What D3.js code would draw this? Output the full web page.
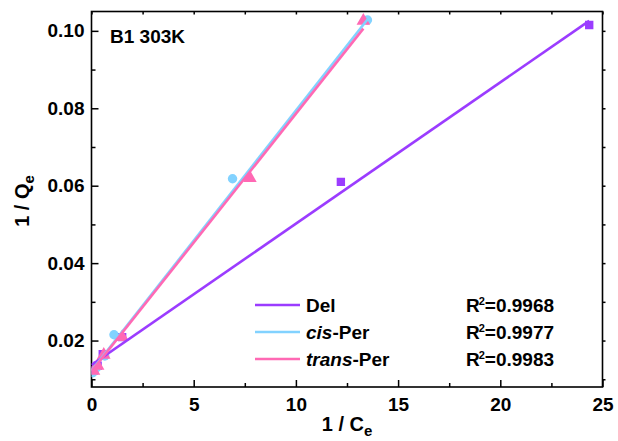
<!DOCTYPE html>
<html><head><meta charset="utf-8">
<script src="https://cdn.jsdelivr.net/npm/d3@7"></script>
<style>
html,body{margin:0;padding:0;background:#fff;}
svg{display:block;font-family:"Liberation Sans",Arial,sans-serif;}
</style></head>
<body>
<svg id="chart" width="618" height="441"></svg>
<script>
// ---- data ----
const seriesNames = ["Del", "cis-Per", "trans-Per"];
const r2Labels = ["0.9968", "0.9977", "0.9983"];
const delX = [0.12, 0.3, 0.55, 1.5, 12.2, 24.35];
const delY = [0.0123, 0.0135, 0.0165, 0.0209, 0.0610, 0.1015];
const cisX = [0.06, 0.25, 0.65, 1.1, 6.9, 13.5];
const cisY = [0.0117, 0.0130, 0.0160, 0.0215, 0.0618, 0.1028];
const transX = [0.1, 0.3, 0.6, 1.5, 7.75, 13.3];
const transY = [0.0122, 0.0135, 0.0163, 0.0209, 0.0620, 0.1026];
const fitSlope = [0.00365, 0.00672, 0.00666];
const fitIntercept = [0.0137, 0.0122, 0.0120];
const xTicks = [0, 5, 10, 15, 20, 25];
const yTicks = [0.02, 0.04, 0.06, 0.08, 0.10];
const colors = ["#9b3cff", "#82d2ff", "#ff69b4"];

const svg = d3.select("#chart");
const L = 91.5, R = 602.5, T = 11.5, B = 387;
const x = d3.scaleLinear().domain([0, 25]).range([L, R]);
const y = d3.scaleLinear().domain([0.008, 0.105]).range([B, T]);

const xMinor = d3.range(2.5, 25, 5);
const yMinor = d3.range(0.01, 0.105, 0.02);
const FS = 19;

// axes
const fmtY = d3.format(".2f");
const gB = svg.append("g").attr("transform", `translate(0,${B})`)
  .call(d3.axisBottom(x).tickValues(xTicks).tickSize(-7).tickPadding(11).tickFormat(d3.format("d")));
const gBm = svg.append("g").attr("transform", `translate(0,${B})`)
  .call(d3.axisBottom(x).tickValues(xMinor).tickSize(-4).tickFormat(""));
const gL = svg.append("g").attr("transform", `translate(${L},0)`)
  .call(d3.axisLeft(y).tickValues(yTicks).tickSize(-7).tickPadding(7).tickFormat(fmtY));
const gLm = svg.append("g").attr("transform", `translate(${L},0)`)
  .call(d3.axisLeft(y).tickValues(yMinor).tickSize(-4).tickFormat(""));
const gT = svg.append("g").attr("transform", `translate(0,${T})`)
  .call(d3.axisTop(x).tickValues(xTicks.concat(xMinor)).tickSize(-3).tickFormat(""));
const gR = svg.append("g").attr("transform", `translate(${R},0)`)
  .call(d3.axisRight(y).tickValues(yTicks.concat(yMinor)).tickSize(3).tickFormat(""));
[gB, gBm, gL, gLm, gT, gR].forEach(g => {
  g.select(".domain").remove();
  g.selectAll("line").attr("stroke", "#000").attr("stroke-width", 1.5);
  g.selectAll("text").attr("font-size", FS).attr("font-weight", "bold")
    .attr("fill", "#000").attr("font-family", "Liberation Sans, Arial, sans-serif");
});
svg.append("rect").attr("x", L).attr("y", T).attr("width", R - L).attr("height", B - T)
  .attr("fill", "none").attr("stroke", "#000").attr("stroke-width", 1.6);

// markers
const sets = [[delX, delY], [cisX, cisY], [transX, transY]];
svg.append("clipPath").attr("id", "clp").append("rect")
  .attr("x", L).attr("y", T).attr("width", R - L).attr("height", B - T);
const plot = svg.append("g").attr("clip-path", "url(#clp)");
const shapes = [d3.symbolSquare, d3.symbolCircle, d3.symbolTriangle];
const sizes = [70, 70, 80];
sets.forEach((s, i) => {
  const pts = s[0].map((v, j) => [v, s[1][j]]);
  plot.append("g").selectAll("path").data(pts).enter().append("path")
    .attr("d", d3.symbol().type(shapes[i]).size(sizes[i]))
    .attr("transform", d => `translate(${x(d[0])},${y(d[1])})`)
    .attr("fill", colors[i]);
});
// fit lines
const line = d3.line().x(d => x(d[0])).y(d => y(d[1]));
sets.forEach((s, i) => {
  const x0 = 0, x1 = d3.max(s[0]);
  plot.append("path")
    .attr("d", line([[x0, fitIntercept[i] + fitSlope[i] * x0], [x1, fitIntercept[i] + fitSlope[i] * x1]]))
    .attr("stroke", colors[i]).attr("stroke-width", 2.6).attr("fill", "none");
});

// annotation
svg.append("text").attr("x", 110).attr("y", 43).attr("font-size", FS)
  .attr("font-weight", "bold").text("B1 303K");

// legend
const legY = [305, 332, 359];
seriesNames.forEach((n, i) => {
  svg.append("line").attr("x1", 255).attr("x2", 300).attr("y1", legY[i]).attr("y2", legY[i])
    .attr("stroke", colors[i]).attr("stroke-width", 2.6);
  const t = svg.append("text").attr("x", 306).attr("y", legY[i] + 7)
    .attr("font-size", FS).attr("font-weight", "bold");
  const parts = n.split("-");
  if (parts.length > 1) {
    t.append("tspan").attr("font-style", "italic").text(parts[0]);
    t.append("tspan").text("-" + parts[1]);
  } else t.text(n);
  const r = svg.append("text").attr("x", 466).attr("y", legY[i] + 7)
    .attr("font-size", FS).attr("font-weight", "bold");
  r.append("tspan").text("R");
  r.append("tspan").attr("font-size", 11).attr("dy", -7).attr("dx", -1).text("2");
  r.append("tspan").attr("dy", 7).text("=" + r2Labels[i]);
});

// axis titles
const xt = svg.append("text").attr("x", 347).attr("y", 431).attr("text-anchor", "middle")
  .attr("font-size", 20).attr("font-weight", "bold");
xt.append("tspan").text("1 / C");
xt.append("tspan").attr("font-size", 15).attr("dy", 5).text("e");
const yt = svg.append("text").attr("transform", "translate(29,201) rotate(-90)")
  .attr("text-anchor", "middle").attr("font-size", 20).attr("font-weight", "bold");
yt.append("tspan").text("1 / Q");
yt.append("tspan").attr("font-size", 15).attr("dy", 5).text("e");
</script>
</body></html>
